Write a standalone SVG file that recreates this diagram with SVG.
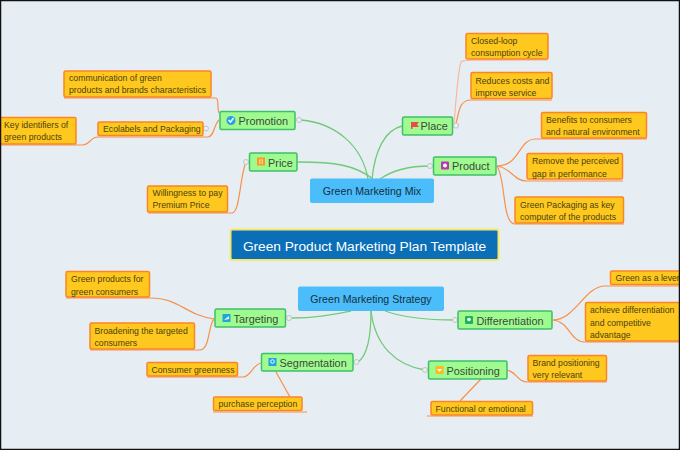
<svg xmlns="http://www.w3.org/2000/svg" width="680" height="450" viewBox="0 0 680 450">
<style>
text{font-family:"Liberation Sans","Noto Sans",Arial,sans-serif;fill:#333}
.leaf rect{fill:#ffc81e;stroke:#fb8427;stroke-width:1.5}
.leaf text{font-size:8.700px;fill:#4a4210}
.main .box{fill:#9ffb8f;stroke:#3fbf6a;stroke-width:1.5}
.main text{font-size:10.900px;fill:#3a4a3a}
.hub rect{fill:#4bbdfa}
.hub text{font-size:10.600px;fill:#14303f}
.g{fill:none;stroke:#72c97a;stroke-width:1.3}
.o{fill:none;stroke:#f79048;stroke-width:1.2}
.p{fill:none;stroke:#f6b9a0;stroke-width:1.2}
.h{fill:#e9eef0;stroke:#bfc4c4;stroke-width:1}
.w{fill:#fff}
</style>
<rect x="0.500" y="0.500" width="679" height="449" fill="#e7eef3"/>
<g id="connectors">
<path class="g" d="M301 120C335 123 362 145 368 179"/>
<path class="g" d="M298 162C335 162 355 165 373 179"/>
<path class="g" d="M402 126C385 130 375 150 372 179"/>
<path class="g" d="M430 166C410 166 393 170 380 179"/>
<path class="g" d="M292 318C315 318 330 315 351 311"/>
<path class="g" d="M358 362C368 355 371 335 371 311"/>
<path class="g" d="M425 370C395 365 375 345 371 311"/>
<path class="g" d="M455 320C430 320 405 318 385 311"/>
<path class="o" d="M64 98H216C219 98 217 108 219 113"/>
<path class="o" d="M98 137H208C214 137 214 124 219 120"/>
<path class="o" d="M0 145H83C90 145 90 137 98 137"/>
<path class="o" d="M148 213H232C240 213 240 175 246 162"/>
<path class="p" d="M454 124C456 100 458 70 461 62C462 60 464 60 548 60"/>
<path class="o" d="M456 124C459 112 459 100 471 100H552"/>
<path class="o" d="M497 166C520 166 518 140 535 139H647"/>
<path class="o" d="M497 166C512 168 513 181 527 181H623"/>
<path class="o" d="M497 166C506 180 502 224 515 224H624"/>
<path class="o" d="M214 319C185 315 180 298 150 298H66"/>
<path class="o" d="M214 319C208 325 210 350 200 350H90"/>
<path class="o" d="M261 363C252 365 251 377 243 377H147"/>
<path class="o" d="M276 372L290 397"/>
<path class="o" d="M213 412H307"/>
<path class="o" d="M553 320C575 320 585 286 605 286H680"/>
<path class="o" d="M553 320C570 322 570 342 585 342H680"/>
<path class="o" d="M507 370C517 372 517 382 528 382H607"/>
<path class="o" d="M481 379L460 401"/>
<path class="o" d="M427 416H533"/>
<circle class="h" cx="299" cy="120" r="2.500"/>
<circle class="h" cx="246" cy="162" r="2.500"/>
<circle class="h" cx="206" cy="128.500" r="2.500"/>
<rect class="h" x="453.500" y="123" width="5" height="5" rx="2"/>
<circle class="h" cx="430" cy="166" r="2.500"/>
<circle class="h" cx="289" cy="318" r="2.500"/>
<circle class="h" cx="356.500" cy="362" r="2.500"/>
<circle class="h" cx="455" cy="320" r="2.500"/>
<circle class="h" cx="425" cy="370" r="2.500"/>
</g>
<g id="title"><rect x="230.500" y="229.500" width="268" height="30.500" rx="2" fill="#0b6fb8" stroke="#f5e76a" stroke-width="2"/><text x="364.500" y="250.500" text-anchor="middle" style="font-size:13.700px;fill:#fff">Green Product Marketing Plan Template</text></g>
<g id="mix" class="hub"><rect x="310" y="178.500" width="124" height="24.500" rx="2"/><text x="372" y="194.500" text-anchor="middle">Green Marketing Mix</text></g>
<g id="strategy" class="hub"><rect x="298" y="286.500" width="146" height="24.500" rx="2"/><text x="371" y="302.500" text-anchor="middle">Green Marketing Strategy</text></g>
<g id="promotion" class="main"><rect class="box" x="220" y="111.500" width="75" height="18" rx="1.500"/><circle cx="231" cy="120.500" r="4.500" fill="#2a9fe8"/><path d="M228.500 120l2 2 3-4" fill="none" stroke="#fff" stroke-width="1.500"/><text x="238.500" y="124.500">Promotion</text></g>
<g id="price" class="main"><rect class="box" x="249.500" y="153" width="47.500" height="18" rx="1.500"/><rect x="257" y="157.500" width="8" height="8" fill="#fb9a1c"/><rect x="259.500" y="160" width="3" height="3" fill="none" stroke="#ffd9a0" stroke-width="1"/><text x="268" y="166.500">Price</text></g>
<g id="place" class="main"><rect class="box" x="402.500" y="117" width="50" height="18" rx="1.500"/><path d="M411 129V122H419L417 124.500 419 127H412.500V129Z" fill="#ef4a4a"/><text x="420.500" y="130">Place</text></g>
<g id="product" class="main"><rect class="box" x="433.500" y="157" width="62.500" height="18" rx="1.500"/><rect x="441" y="161.500" width="8" height="8" rx="1" fill="#b739ad"/><circle class="w" cx="445" cy="165.500" r="2"/><text x="452" y="170">Product</text></g>
<g id="targeting" class="main"><rect class="box" x="215" y="309" width="70.500" height="18" rx="1.500"/><rect x="222.500" y="314" width="8" height="8" fill="#23a4e0"/><path class="w" d="M224 320l5-4v3z"/><text x="233.500" y="322.500">Targeting</text></g>
<g id="segmentation" class="main"><rect class="box" x="261.500" y="353.500" width="91.500" height="17.500" rx="1.500"/><rect x="268.500" y="358" width="8" height="8" fill="#23a4e0"/><circle cx="272.500" cy="361.500" r="1.800" fill="none" stroke="#fff"/><text x="279.500" y="367">Segmentation</text></g>
<g id="differentiation" class="main"><rect class="box" x="458" y="311" width="94" height="18" rx="1.500"/><rect x="465" y="316" width="8" height="8" rx="1" fill="#1fb35f"/><circle class="w" cx="469" cy="319.500" r="1.800"/><text x="476.500" y="324.500">Differentiation</text></g>
<g id="positioning" class="main"><rect class="box" x="428.500" y="361" width="78.500" height="18" rx="1.500"/><rect x="435.500" y="366" width="8" height="8" rx="1" fill="#fdb91e"/><path class="w" d="M437 369h5l-2.500 3z"/><text x="446.500" y="374.500">Positioning</text></g>
<g id="leaf1" class="leaf"><rect x="64" y="71" width="147" height="26" rx="1.500"/><text x="69" y="81">communication of green</text><text x="69" y="93">products and brands characteristics</text></g>
<g id="leaf2" class="leaf"><rect x="98" y="122" width="105" height="13.500" rx="1.500"/><text x="103" y="132">Ecolabels and Packaging</text></g>
<g id="leaf3" class="leaf"><rect x="-3" y="117.500" width="79" height="26.500" rx="1.500"/><text x="4" y="128">Key identifiers of</text><text x="4" y="140">green products</text></g>
<g id="leaf4" class="leaf"><rect x="147.500" y="186" width="80" height="26" rx="1.500"/><text x="152.500" y="196">Willingness to pay</text><text x="152.500" y="208">Premium Price</text></g>
<g id="leaf5" class="leaf"><rect x="466" y="33.500" width="82" height="25.500" rx="1.500"/><text x="471" y="43.500">Closed-loop</text><text x="471" y="56">consumption cycle</text></g>
<g id="leaf6" class="leaf"><rect x="471" y="72.500" width="81" height="26" rx="1.500"/><text x="475.500" y="83.500">Reduces costs and</text><text x="475.500" y="96">improve service</text></g>
<g id="leaf7" class="leaf"><rect x="541.500" y="112.500" width="105" height="25.500" rx="1.500"/><text x="546" y="122.500">Benefits to consumers</text><text x="546" y="135">and natural environment</text></g>
<g id="leaf8" class="leaf"><rect x="527" y="153.500" width="95.500" height="25.500" rx="1.500"/><text x="532" y="164">Remove the perceived</text><text x="532" y="176.500">gap in performance</text></g>
<g id="leaf9" class="leaf"><rect x="515" y="197" width="108.500" height="26" rx="1.500"/><text x="520" y="207.500">Green Packaging as key</text><text x="520" y="219.500">computer of the products</text></g>
<g id="leaf10" class="leaf"><rect x="66" y="271.500" width="83.500" height="25.500" rx="1.500"/><text x="71" y="281.500">Green products for</text><text x="71" y="294.500">green consumers</text></g>
<g id="leaf11" class="leaf"><rect x="90" y="323" width="104.500" height="26" rx="1.500"/><text x="94.500" y="333.500">Broadening the targeted</text><text x="94.500" y="345.500">consumers</text></g>
<g id="leaf12" class="leaf"><rect x="147" y="362.500" width="90.500" height="13.500" rx="1.500"/><text x="151.500" y="372.500">Consumer greenness</text></g>
<g id="leaf13" class="leaf"><rect x="213.500" y="397" width="88.500" height="13.500" rx="1.500"/><text x="218.500" y="407">purchase perception</text></g>
<g id="leaf14" class="leaf"><rect x="610.500" y="271" width="75" height="13.500" rx="1.500"/><text x="615.500" y="281">Green as a lever</text></g>
<g id="leaf15" class="leaf"><rect x="585.500" y="302.500" width="100" height="38.500" rx="1.500"/><text x="590" y="312.500">achieve differentiation</text><text x="590" y="325.500">and competitive</text><text x="590" y="338">advantage</text></g>
<g id="leaf16" class="leaf"><rect x="528" y="355.500" width="78.500" height="25.500" rx="1.500"/><text x="532.500" y="365.500">Brand positioning</text><text x="532.500" y="378">very relevant</text></g>
<g id="leaf17" class="leaf"><rect x="431" y="401.500" width="101.500" height="13.500" rx="1.500"/><text x="435.500" y="411.500">Functional or emotional</text></g>
<rect x="0.500" y="0.500" width="679" height="449" fill="none" stroke="#111" stroke-width="1.500"/>
</svg>
